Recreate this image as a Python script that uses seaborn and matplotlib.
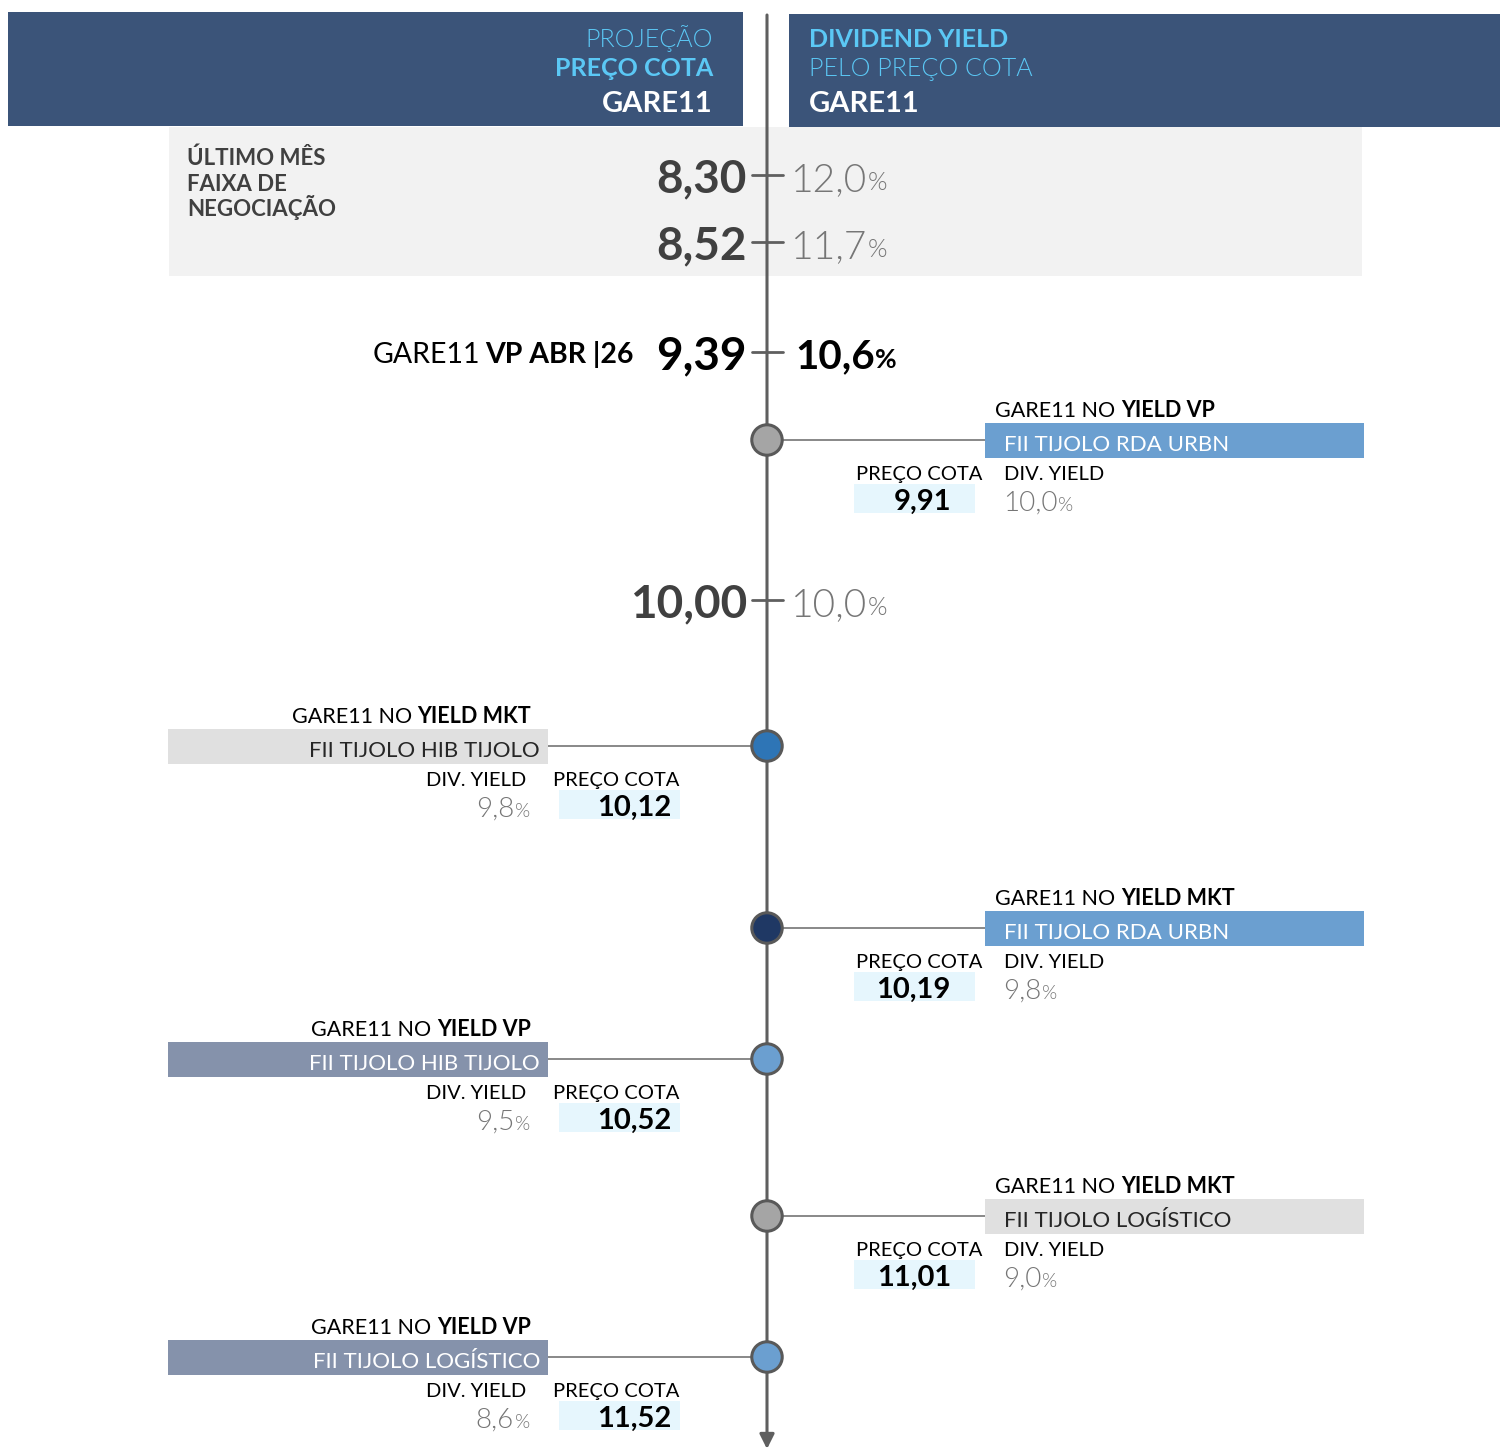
import pandas as pd
import matplotlib.pyplot as plt
import seaborn as sns
from matplotlib.patches import Rectangle

sns.set_theme(style='white')
plt.rcParams['font.family'] = ['Lato', 'DejaVu Sans']

# top reference levels (price -> yield)
top_price = [8.30, 8.52, 9.39, 10.00]
top_yield = [12.0, 11.7, 10.6, 10.0]

# scenarios along the axis
sc_price = [9.91, 10.12, 10.19, 10.52, 11.01, 11.52]
sc_yield = [10.0, 9.8, 9.8, 9.5, 9.0, 8.6]
sc_basis = ['YIELD VP', 'YIELD MKT', 'YIELD MKT', 'YIELD VP', 'YIELD MKT', 'YIELD VP']
sc_fund = ['FII TIJOLO RDA URBN', 'FII TIJOLO HIB TIJOLO', 'FII TIJOLO RDA URBN',
           'FII TIJOLO HIB TIJOLO', 'FII TIJOLO LOGÍSTICO', 'FII TIJOLO LOGÍSTICO']
ticker = 'GARE11'

# layout / style
top_y = [175, 242, 352, 600]
sc_y = [440, 746, 928, 1059, 1216, 1357]
sc_side = ['right', 'left', 'right', 'left', 'right', 'left']
sc_dot = ['grey', 'blue', 'navy', 'light', 'grey', 'light']
sc_box = ['#6B9FD0', '#E0E0E0', '#6B9FD0', '#8592AB', '#E0E0E0', '#8592AB']
sc_boxtxt = ['white', '#262626', 'white', 'white', '#262626', 'white']
dot_pal = {'grey': '#A5A5A5', 'blue': '#2E75B6', 'navy': '#1F3864', 'light': '#6B9FD0'}

NAVY = '#3B5479'
SKY = '#5BC8F5'
AXC = '#5F5F5F'
DARK = '#404040'
GREY = '#767676'
VALBOX = '#E6F6FD'
AX_X = 767
DESC = 0.19
LIGHT = 300


def br(v, d):
    return f'{v:.{d}f}'.replace('.', ',')


fig = plt.figure(figsize=(15.01, 14.5), dpi=100)
ax = fig.add_axes([0, 0, 1, 1])
ax.set_xlim(0, 1501)
ax.set_ylim(1450, 0)
ax.axis('off')


def rect(x0, y0, x1, y1, color, z=1):
    ax.add_patch(Rectangle((x0, y0), x1 - x0, y1 - y0, color=color, lw=0, zorder=z))


def pct(x, y, value, size, color, weight=LIGHT, ha='left', psize=None):
    psize = psize or size * 0.62
    k = DESC * (size - psize)
    if ha == 'left':
        t = ax.text(x, y, br(value, 1), fontsize=size, color=color, weight=weight,
                    ha='left', va='baseline', zorder=5)
        ax.annotate('%', xy=(1, 0), xycoords=t, xytext=(0.5, k), textcoords='offset points',
                    fontsize=psize, color=color, weight=weight, ha='left', va='bottom', zorder=5)
    else:
        p = ax.text(x, y, '%', fontsize=psize, color=color, weight=weight,
                    ha='right', va='baseline', zorder=5)
        ax.annotate(br(value, 1), xy=(0, 0), xycoords=p, xytext=(-0.5, -k),
                    textcoords='offset points', fontsize=size, color=color, weight=weight,
                    ha='right', va='bottom', zorder=5)


def mixed(x, y, normal, bold, size, color, ha):
    if ha == 'left':
        t = ax.text(x, y, normal, fontsize=size, color=color, ha='left', va='baseline', zorder=5)
        ax.annotate(bold, xy=(1, 0), xycoords=t, xytext=(4, 0), textcoords='offset points',
                    fontsize=size, color=color, weight='bold', ha='left', va='bottom', zorder=5)
    else:
        t = ax.text(x, y, bold, fontsize=size, color=color, weight='bold', ha='right',
                    va='baseline', zorder=5)
        ax.annotate(normal, xy=(0, 0), xycoords=t, xytext=(-4, 0), textcoords='offset points',
                    fontsize=size, color=color, ha='right', va='bottom', zorder=5)


# headers
rect(8, 12, 743, 126, NAVY)
rect(789, 14, 1500, 127, NAVY)
ax.text(713, 47, 'PROJEÇÃO', fontsize=18, color=SKY, weight=LIGHT, ha='right', va='baseline')
ax.text(713, 76, 'PREÇO COTA', fontsize=18, color=SKY, weight='bold', ha='right', va='baseline')
ax.text(713, 112, ticker, fontsize=21, color='white', weight='bold', ha='right', va='baseline')
ax.text(809, 47, 'DIVIDEND YIELD', fontsize=18, color=SKY, weight='bold', ha='left', va='baseline')
ax.text(809, 76, 'PELO PREÇO COTA', fontsize=18, color=SKY, weight=LIGHT, ha='left', va='baseline')
ax.text(809, 112, ticker, fontsize=21, color='white', weight='bold', ha='left', va='baseline')

# last month trading band
rect(169, 127, 1362, 276, '#F2F2F2', z=0)
for yy, line in zip([165, 191, 216], ['ÚLTIMO MÊS', 'FAIXA DE', 'NEGOCIAÇÃO']):
    ax.text(187, yy, line, fontsize=16, color=DARK, weight='bold', ha='left', va='baseline')

# main axis with arrow
ax.annotate('', xy=(AX_X, 1449), xytext=(AX_X, 15),
            arrowprops=dict(arrowstyle='-|>', color=AXC, lw=2.2, mutation_scale=22,
                            shrinkA=0, shrinkB=0), zorder=2)

# top levels with ticks
for i, (p, yv, yy) in enumerate(zip(top_price, top_yield, top_y)):
    ax.plot([752, 783], [yy, yy], color=AXC, lw=2, zorder=2)
    if i == 2:
        ax.text(747, yy + 17, br(p, 2), fontsize=33, color='black', weight='bold',
                ha='right', va='baseline', zorder=5)
        pct(795, yy + 16, yv, 29, 'black', weight='bold', psize=19)
        mixed(634, yy + 11, ticker, 'VP ABR |26', 20.5, 'black', 'right')
    else:
        ax.text(747, yy + 17, br(p, 2), fontsize=33, color=DARK, weight='bold',
                ha='right', va='baseline', zorder=5)
        pct(791, yy + 16, yv, 28, GREY, psize=18)

# scenario rows
for p, yv, basis, fund, yy, side, bc, tc in zip(sc_price, sc_yield, sc_basis, sc_fund,
                                                 sc_y, sc_side, sc_box, sc_boxtxt):
    if side == 'right':
        b0, b1 = 985, 1364
        ax.plot([AX_X, b0], [yy, yy], color='#7F7F7F', lw=1.3, zorder=2)
        rect(b0, yy - 17, b1, yy + 18, bc, z=3)
        mixed(b0 + 10, yy - 23, f'{ticker} NO', basis, 15.5, 'black', 'left')
        ax.text(b0 + 19, yy + 11, fund, fontsize=16, color=tc, ha='left', va='baseline', zorder=5)
        ax.text(b0 - 3, yy + 40, 'PREÇO COTA', fontsize=14.5, color='black', ha='right',
                va='baseline', zorder=5)
        rect(b0 - 131, yy + 44, b0 - 10, yy + 73, VALBOX, z=3)
        ax.text(b0 - 34, yy + 70, br(p, 2), fontsize=21, color='black', weight='bold',
                ha='right', va='baseline', zorder=5)
        ax.text(b0 + 19, yy + 40, 'DIV. YIELD', fontsize=14.5, color='black', ha='left',
                va='baseline', zorder=5)
        pct(b0 + 18, yy + 71, yv, 20, GREY, psize=14)
    else:
        b0, b1 = 168, 548
        ax.plot([b1, AX_X], [yy, yy], color='#7F7F7F', lw=1.3, zorder=2)
        rect(b0, yy - 17, b1, yy + 18, bc, z=3)
        mixed(b1 - 17, yy - 23, f'{ticker} NO', basis, 15.5, 'black', 'right')
        ax.text(b1 - 8, yy + 11, fund, fontsize=16, color=tc, ha='right', va='baseline', zorder=5)
        ax.text(b1 - 22, yy + 40, 'DIV. YIELD', fontsize=14.5, color='black', ha='right',
                va='baseline', zorder=5)
        pct(b1 - 18, yy + 71, yv, 20, GREY, ha='right', psize=14)
        ax.text(b1 + 5, yy + 40, 'PREÇO COTA', fontsize=14.5, color='black', ha='left',
                va='baseline', zorder=5)
        rect(b1 + 11, yy + 44, b1 + 132, yy + 73, VALBOX, z=3)
        ax.text(b1 + 124, yy + 70, br(p, 2), fontsize=21, color='black', weight='bold',
                ha='right', va='baseline', zorder=5)

dots = pd.DataFrame({'x': [AX_X] * len(sc_y), 'y': sc_y, 'kind': sc_dot})
sns.scatterplot(data=dots, x='x', y='y', hue='kind', palette=dot_pal, s=480,
                edgecolor='#595959', linewidth=2.2, legend=False, ax=ax, zorder=6)
ax.set_xlim(0, 1501)
ax.set_ylim(1450, 0)
ax.axis('off')

fig.savefig('out.png', dpi=100)
